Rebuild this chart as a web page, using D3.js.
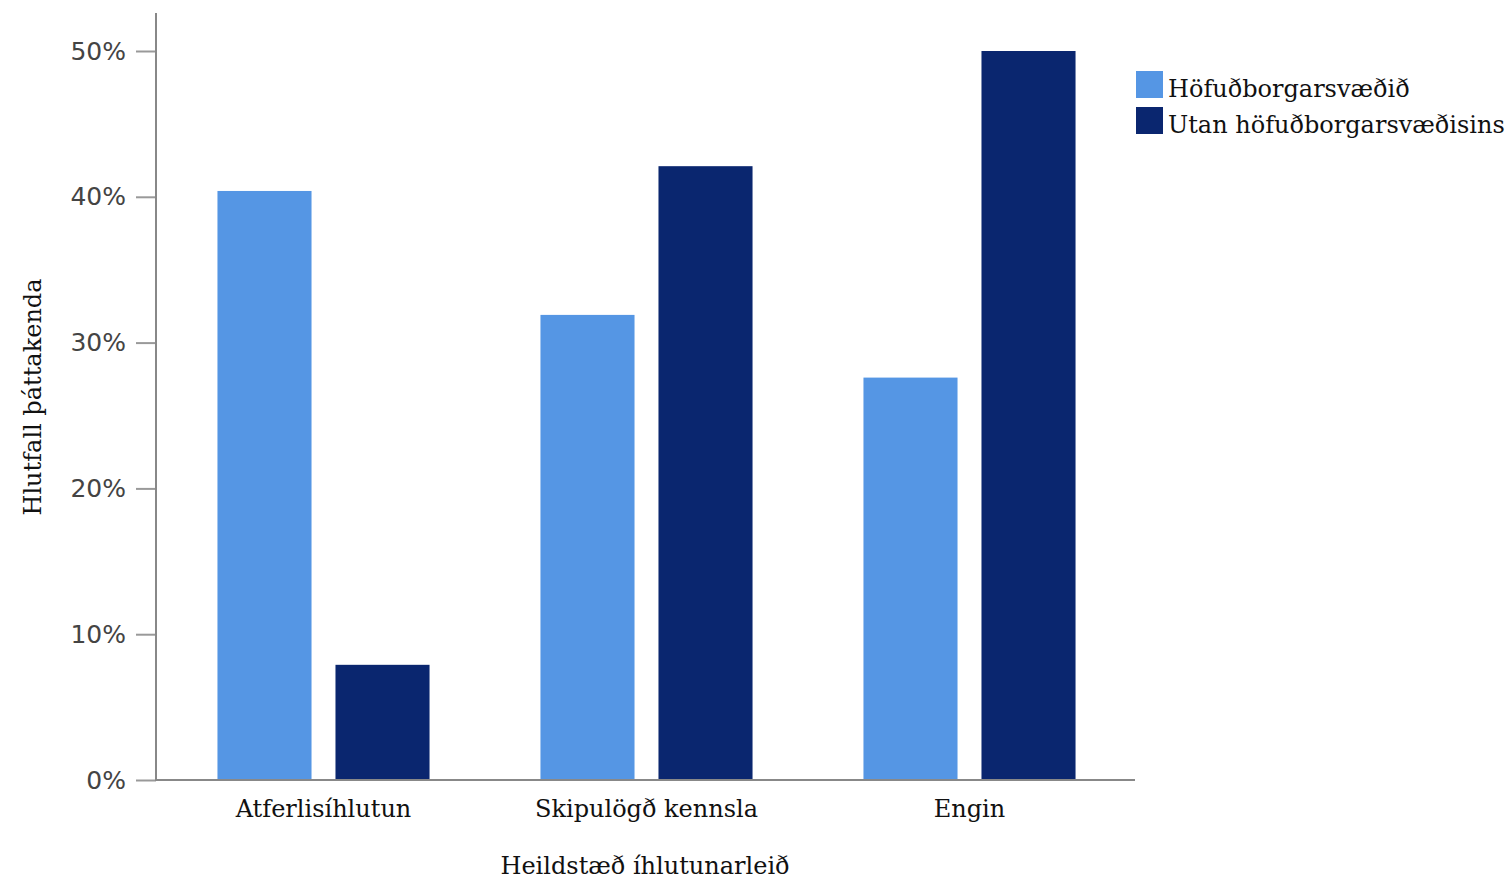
<!DOCTYPE html>
<html>
<head>
<meta charset="utf-8">
<script src="https://cdn.jsdelivr.net/npm/d3@7"></script>
<style>
  html, body { margin: 0; padding: 0; background: #fff; }
  svg { display: block; }
</style>
</head>
<body>
<svg id="chart" width="1510" height="880"></svg>
<script>
const categories = ["Atferlisíhlutun", "Skipulögð kennsla", "Engin"];
const seriesNames = ["Höfuðborgarsvæðið", "Utan höfuðborgarsvæðisins"];
const capitalValues = [40.4, 31.9, 27.6];
const outsideValues = [7.9, 42.1, 50.0];
const yTicks = [0, 10, 20, 30, 40, 50];
const xTitle = "Heildstæð íhlutunarleið";
const yTitle = "Hlutfall þáttakenda";
const colors = ["#5596e4", "#0a266f"];

const series = [capitalValues, outsideValues];
const svg = d3.select("#chart");
const serif = "'DejaVu Serif', serif";
const sans = "'DejaVu Sans', sans-serif";

const y = d3.scaleLinear().domain([0, 50]).range([780, 51]);
const x0 = d3.scaleBand().domain(categories).range([162, 1131]).paddingInner(0).paddingOuter(0);
const x1 = d3.scaleBand().domain(seriesNames).range([0, x0.bandwidth()]).paddingInner(0.203).paddingOuter(0.47);

// bars
const g = svg.append("g");
categories.forEach((c, ci) => {
  seriesNames.forEach((s, si) => {
    g.append("rect")
      .attr("x", x0(c) + x1(s))
      .attr("y", y(series[si][ci]))
      .attr("width", x1.bandwidth())
      .attr("height", y(0) - y(series[si][ci]))
      .attr("fill", colors[si]);
  });
});

// y axis
const yAxis = d3.axisLeft(y).tickValues(yTicks).tickSize(20).tickPadding(10).tickFormat(d => d + "%");
const ya = svg.append("g").attr("transform", "translate(156,0)").call(yAxis);
ya.select(".domain").remove();
ya.selectAll(".tick line").attr("stroke", "#999").attr("stroke-width", 2);
ya.selectAll(".tick text").attr("font-family", sans).attr("font-size", 25).attr("fill", "#444");
svg.append("line").attr("x1", 156).attr("x2", 156).attr("y1", 13).attr("y2", 781)
  .attr("stroke", "#888").attr("stroke-width", 2);

// x axis
const xAxis = d3.axisBottom(x0).tickSize(0).tickPadding(0);
const xa = svg.append("g").attr("transform", "translate(0,780)").call(xAxis);
xa.select(".domain").remove();
xa.selectAll(".tick text").attr("font-family", serif).attr("font-size", 24).attr("fill", "#111")
  .attr("y", 37).attr("dy", 0);
svg.append("line").attr("x1", 155).attr("x2", 1135).attr("y1", 780).attr("y2", 780)
  .attr("stroke", "#888").attr("stroke-width", 2);

// titles
svg.append("text").attr("x", 645).attr("y", 874).attr("text-anchor", "middle")
  .attr("font-family", serif).attr("font-size", 24).attr("fill", "#111").text(xTitle);
svg.append("text").attr("transform", "translate(41,397) rotate(-90)").attr("text-anchor", "middle")
  .attr("font-family", serif).attr("font-size", 24).attr("fill", "#111").text(yTitle);

// legend
const lg = svg.append("g").attr("transform", "translate(1136,71)");
seriesNames.forEach((s, i) => {
  lg.append("rect").attr("x", 0).attr("y", i * 36).attr("width", 27).attr("height", 27).attr("fill", colors[i]);
  lg.append("text").attr("x", 32).attr("y", i * 36 + 26)
    .attr("font-family", serif).attr("font-size", 24).attr("fill", "#111").text(s);
});
</script>
</body>
</html>
